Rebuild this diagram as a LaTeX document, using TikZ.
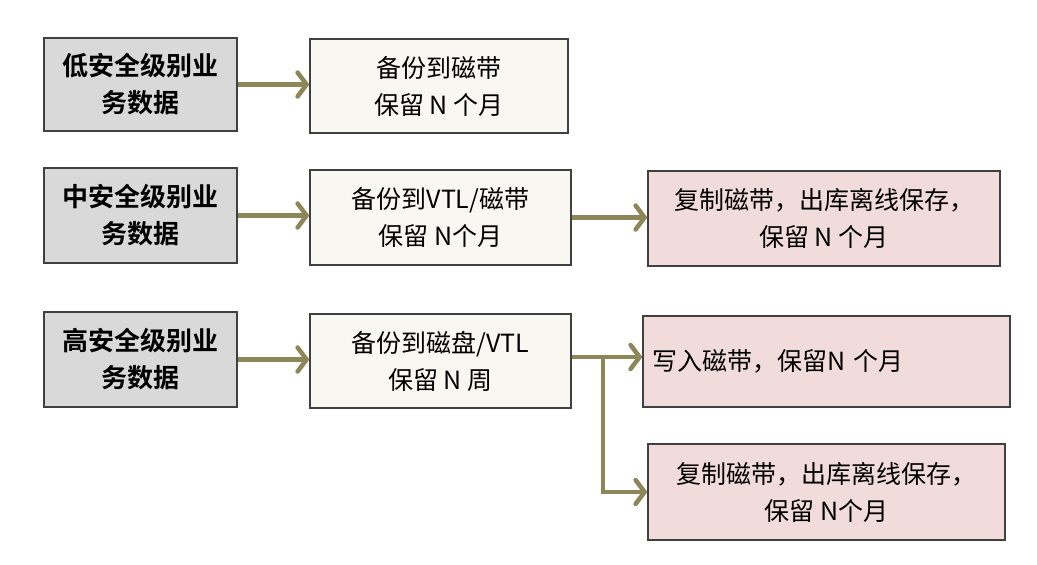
\documentclass[tikz,border=0pt]{standalone}
\usepackage{fontspec}
\newfontfamily\cjk{Noto Sans CJK SC}
\newfontfamily\cjkbold{Noto Sans CJK SC Bold}
\usetikzlibrary{arrows.meta}
\definecolor{leftfill}{HTML}{D9D9D9}
\definecolor{midfill}{HTML}{F8F7F2}
\definecolor{rightfill}{HTML}{F2DCDB}
\definecolor{boxline}{HTML}{404040}
\definecolor{arrowcol}{HTML}{8C8658}
\tikzset{
  basebox/.style={draw=boxline, line width=1.2pt, inner sep=0pt, align=center},
  leftbox/.style={basebox, fill=leftfill, font=\cjkbold\fontsize{26}{37}\selectfont},
  midbox/.style={basebox, fill=midfill, font=\cjk\fontsize{25}{37}\selectfont},
  rightbox/.style={basebox, fill=rightfill, font=\cjk\fontsize{25}{37}\selectfont},
  flow/.style={draw=arrowcol, line width=4.5pt, -{Straight Barb[length=9pt, width=24pt, line cap=round]}},
}
\begin{document}
\begin{tikzpicture}[x=1pt,y=-1pt]
\useasboundingbox[fill=white] (0,0) rectangle (1037,565);
\node[leftbox, minimum width=193pt, minimum height=93pt] (L1) at (140.5,84.5) {低安全级别业\\务数据};
\node[leftbox, minimum width=193pt, minimum height=95pt] (L2) at (140.5,215.5) {中安全级别业\\务数据};
\node[leftbox, minimum width=193pt, minimum height=95pt] (L3) at (140.5,359.5) {高安全级别业\\务数据};
\node[midbox, minimum width=258pt, minimum height=94pt] (M1) at (439,86) {备份到磁带\\保留 N 个月};
\node[midbox, minimum width=261pt, minimum height=95pt] (M2) at (440.5,217.5) {备份到VTL/磁带\\保留 N个月};
\node[midbox, minimum width=261pt, minimum height=94pt] (M3) at (440.5,361) {备份到磁盘/VTL\\保留 N 周};
\node[rightbox, minimum width=352pt, minimum height=95pt] (R2) at (824,218.5) {复制磁带，出库离线保存，\\保留 N 个月};
\node[rightbox, minimum width=367pt, minimum height=91pt, text width=349pt, align=left] (R3a) at (826.5,361.5) {写入磁带，保留N 个月};
\node[rightbox, minimum width=357pt, minimum height=96pt] (R3b) at (826.5,492) {复制磁带，出库离线保存，\\保留 N个月};
\coordinate (br) at (603,357);
\draw[flow] (L1.east) -- (L1.east -| M1.west);
\draw[flow] (L2.east) -- (L2.east -| M2.west);
\draw[flow] (L3.east) -- (L3.east -| M3.west);
\draw[flow] (M2.east) -- (M2.east -| R2.west);
\draw[flow] (M3.east |- br) -- (br -| R3a.west);
\draw[flow] (br) |- (R3b.west);
\end{tikzpicture}
\end{document}
